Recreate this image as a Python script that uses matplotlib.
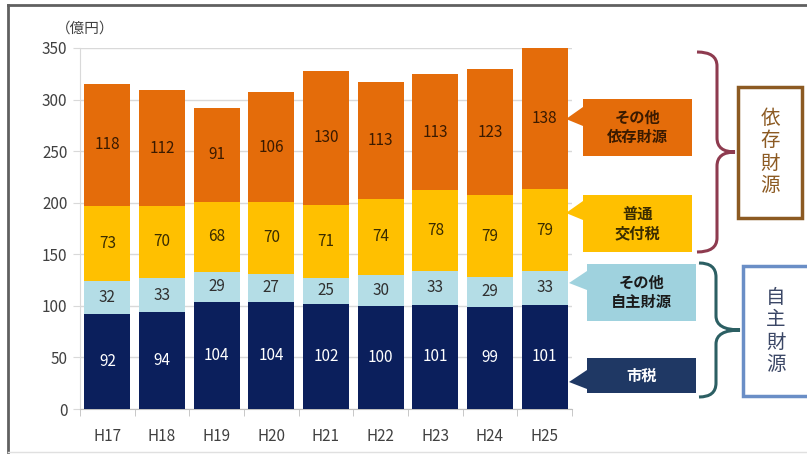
import numpy as np
import matplotlib
matplotlib.use("Agg")
import matplotlib.pyplot as plt
from matplotlib.patches import Polygon, Rectangle, PathPatch
from matplotlib.path import Path

plt.rcParams['font.family'] = ['Noto Sans CJK JP', 'DejaVu Sans']

# data (億円)
years = ['H17', 'H18', 'H19', 'H20', 'H21', 'H22', 'H23', 'H24', 'H25']
shizei = [92, 94, 104, 104, 102, 100, 101, 99, 101]          # 市税
other_own = [32, 33, 29, 27, 25, 30, 33, 29, 33]             # その他自主財源
kofuzei = [73, 70, 68, 70, 71, 74, 78, 79, 79]               # 普通交付税
other_dep = [118, 112, 91, 106, 130, 113, 113, 123, 138]     # その他依存財源

series = [shizei, other_own, kofuzei, other_dep]
colors = ['#0b1f5c', '#b4dde6', '#ffc000', '#e46c0a']
label_colors = ['white', '#303030', '#3a2c00', '#3a1a00']

W, H = 807, 454
fig = plt.figure(figsize=(W / 100, H / 100), dpi=100)

# main axes
ax = fig.add_axes([80 / W, 1 - 409 / H, 492 / W, 361 / H])
x = np.arange(len(years))
bottom = np.zeros(len(years))
for vals, c, lc in zip(series, colors, label_colors):
    vals = np.array(vals)
    ax.bar(x, vals, 0.84, bottom=bottom, color=c, zorder=3)
    for xi, b, v in zip(x, bottom, vals):
        ax.text(xi, b + v / 2, str(v), ha='center', va='center',
                fontsize=11, color=lc, zorder=4)
    bottom += vals

ax.set_xlim(-0.5, len(years) - 0.5)
ax.set_ylim(0, 350)
ax.set_yticks(range(0, 351, 50))
ax.set_xticks(x)
ax.set_xticklabels(years)
ax.set_xticks(np.arange(-0.5, len(years), 1), minor=True)
ax.tick_params(axis='x', which='major', length=0, pad=14, labelsize=11, labelcolor='#404040')
ax.tick_params(axis='x', which='minor', length=5, color='#bfbfbf')
ax.tick_params(axis='y', length=5, color='#d9d9d9', labelsize=11, labelcolor='#404040', pad=4)
ax.grid(axis='y', color='#d9d9d9', lw=1, zorder=0)
for s in ['top', 'right']:
    ax.spines[s].set_visible(False)
ax.spines['left'].set_color('#d9d9d9')
ax.spines['bottom'].set_color('#bfbfbf')

# overlay in pixel coordinates for annotations
ov = fig.add_axes([0, 0, 1, 1], zorder=5)
ov.set_xlim(0, W)
ov.set_ylim(H, 0)
ov.axis('off')
ov.patch.set_alpha(0)

ov.text(85, 29, '（億円）', ha='center', va='center', fontsize=10.5, color='#404040')

# outer frame
ov.plot([8, W], [5, 5], color='#606060', lw=2)
ov.plot([8, 8], [5, 452], color='#606060', lw=2)
ov.plot([8, W], [452, 452], color='#e0e0e0', lw=1)


def callout(x0, y0, x1, y1, tx, ty, color, text, tcolor):
    b0 = max(y0, ty - 12)
    b1 = min(y1, ty + 7)
    pts = [(x0, y0), (x1, y0), (x1, y1), (x0, y1), (x0, b1), (tx, ty), (x0, b0)]
    ov.add_patch(Polygon(pts, closed=True, facecolor=color, edgecolor='none'))
    ov.text((x0 + x1) / 2, (y0 + y1) / 2, text, ha='center', va='center',
            fontsize=11, fontweight='bold', color=tcolor, linespacing=1.3)


callout(583, 99, 692, 156, 566, 119, '#e46c0a', 'その他\n依存財源', '#3a1a00')
callout(583, 195, 692, 252, 566, 213, '#ffc000', '普通\n交付税', '#3a2c00')
callout(587, 264, 696, 321, 569, 283, '#9fd2de', 'その他\n自主財源', '#1a1a1a')
callout(587, 358, 696, 393, 569, 382, '#1f3864', '市税', 'white')


def brace(y0, y1, ym, xl, xv, xt, color, r=14):
    verts = [(xl, y0), (xv, y0), (xv, y0 + r),
             (xv, ym - r), (xv, ym), (xt, ym),
             (xv, ym), (xv, ym + r),
             (xv, y1 - r), (xv, y1), (xl, y1)]
    codes = [Path.MOVETO, Path.CURVE3, Path.CURVE3,
             Path.LINETO, Path.CURVE3, Path.CURVE3,
             Path.CURVE3, Path.CURVE3,
             Path.LINETO, Path.CURVE3, Path.CURVE3]
    ov.add_patch(PathPatch(Path(verts, codes), facecolor='none', edgecolor=color, lw=2.2))


brace(52, 252, 152, 697, 717, 735, '#8e3b4f')
brace(263, 397, 330, 699, 716, 740, '#2c5f63')

# side boxes
ov.add_patch(Rectangle((738, 87), 64, 131, facecolor='white', edgecolor='#8c5a22', lw=2.5))
ov.text(770, 152, '依\n存\n財\n源', ha='center', va='center', fontsize=14,
        color='#8c5a22', linespacing=1.1)
ov.add_patch(Rectangle((743, 266), 66, 130, facecolor='white', edgecolor='#6a8ec6', lw=2.5,
                       clip_on=False))
ov.text(776, 331, '自\n主\n財\n源', ha='center', va='center', fontsize=14,
        color='#3b4766', linespacing=1.1)

fig.savefig('out.png', dpi=100)
